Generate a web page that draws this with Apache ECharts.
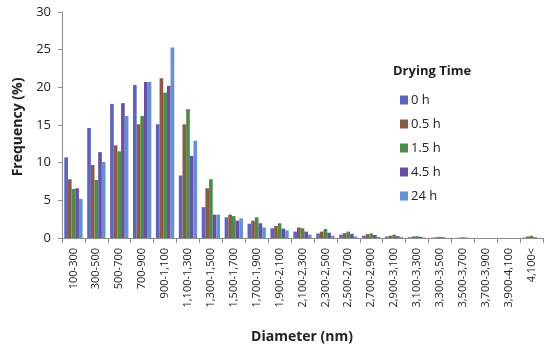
<!DOCTYPE html>
<html>
<head>
<meta charset="utf-8">
<script src="https://cdn.jsdelivr.net/npm/echarts@6/dist/echarts.min.js"></script>
<style>
html,body{margin:0;padding:0;background:#fff;}
#c{width:550px;height:354px;}
</style>
</head>
<body>
<div id="c"></div>
<script>
var categories = ['100-300','300-500','500-700','700-900','900-1,100','1,100-1,300','1,300-1,500','1,500-1,700','1,700-1,900','1,900-2,100','2,100-2,300','2,300-2,500','2,500-2,700','2,700-2,900','2,900-3,100','3,100-3,300','3,300-3,500','3,500-3,700','3,700-3,900','3,900-4,100','4,100<'];
var seriesNames = ['0 h','0.5 h','1.5 h','4.5 h','24 h'];
var h0  = [10.7, 14.6, 17.8, 20.3, 15.1, 8.3, 4.1, 2.75, 1.9, 1.3, 0.85, 0.6, 0.45, 0.3, 0.2, 0.1, 0.05, 0, 0, 0, 0.05];
var h05 = [7.8, 9.7, 12.3, 15.1, 21.2, 15.1, 6.6, 3.1, 2.3, 1.6, 1.4, 0.85, 0.65, 0.5, 0.3, 0.2, 0.1, 0.05, 0, 0, 0.2];
var h15 = [6.5, 7.7, 11.5, 16.2, 19.3, 17.1, 7.8, 2.9, 2.75, 1.95, 1.3, 1.2, 0.85, 0.6, 0.45, 0.25, 0.15, 0.1, 0, 0, 0.3];
var h45 = [6.6, 11.4, 17.9, 20.7, 20.2, 10.9, 3.1, 2.3, 1.95, 1.25, 0.85, 0.7, 0.55, 0.4, 0.25, 0.15, 0.1, 0.05, 0, 0, 0.1];
var h24 = [5.2, 10.1, 16.2, 20.7, 25.3, 12.9, 3.1, 2.6, 1.4, 1.0, 0.45, 0.3, 0.2, 0.15, 0.1, 0.05, 0, 0, 0, 0, 0];
var yTicks = [0, 5, 10, 15, 20, 25, 30];
var colors = ['#5E64BD', '#8A5C48', '#4E8A48', '#6651A6', '#6591D2'];

var allData = [h0, h05, h15, h45, h24];
var font = '"Open Sans", "Liberation Sans", sans-serif';
var chart = echarts.init(document.getElementById('c'));
chart.setOption({
  animation: false,
  color: colors,
  grid: {left: 62, right: 7, top: 12, bottom: 116, containLabel: false},
  legend: {
    data: seriesNames,
    orient: 'vertical',
    left: 395,
    top: 88,
    icon: 'rect',
    itemWidth: 8,
    itemHeight: 9,
    itemGap: 10,
    textStyle: {fontFamily: font, fontSize: 13, color: '#222', lineHeight: 14, padding: [0,0,0,-2]}
  },
  graphic: [
    {type: 'text', left: 393, top: 65, style: {text: 'Drying Time', font: 'bold 13px ' + font, fill: '#222'}},
    {type: 'text', x: 302, y: 337, style: {text: 'Diameter (nm)', font: 'bold 14px ' + font, fill: '#222', align: 'center', verticalAlign: 'middle'}},
    {type: 'text', x: 18, y: 127, rotation: Math.PI/2, style: {text: 'Frequency (%)', font: 'bold 14px ' + font, fill: '#222', align: 'center', verticalAlign: 'middle'}}
  ],
  xAxis: {
    type: 'category',
    data: categories,
    axisLine: {lineStyle: {color: '#8c8c8c'}},
    axisTick: {show: true, length: 5, lineStyle: {color: '#8c8c8c'}},
    axisLabel: {rotate: 90, interval: 0, margin: 10, fontFamily: font, fontSize: 11, color: '#222'},
    splitLine: {show: false}
  },
  yAxis: {
    type: 'value',
    min: yTicks[0],
    max: yTicks[yTicks.length-1],
    interval: 5,
    axisLine: {show: true, lineStyle: {color: '#8c8c8c'}},
    axisTick: {show: true, length: 4, lineStyle: {color: '#8c8c8c'}},
    axisLabel: {margin: 11, fontFamily: font, fontSize: 13, color: '#222'},
    splitLine: {show: false}
  },
  series: seriesNames.map(function(n, i){
    return {name: n, type: 'bar', data: allData[i], barGap: '0%', barCategoryGap: '20%'};
  })
});
</script>
</body>
</html>
